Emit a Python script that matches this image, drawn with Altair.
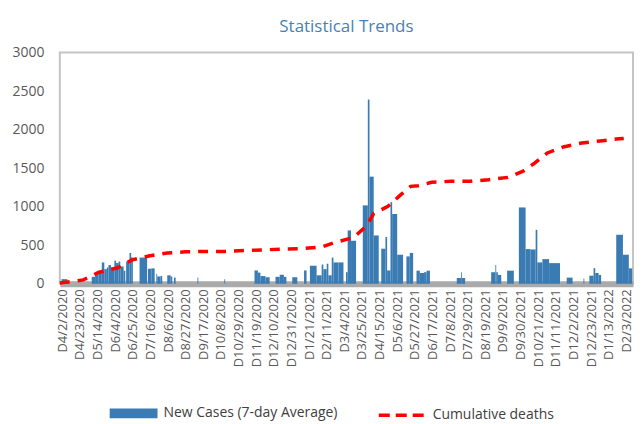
import altair as alt
import pandas as pd

START = "2020-04-02"

# x-axis tick labels (every 21 days)
tick_dates = ["2020-04-02", "2020-04-23", "2020-05-14", "2020-06-04", "2020-06-25",
              "2020-07-16", "2020-08-06", "2020-08-27", "2020-09-17", "2020-10-08",
              "2020-10-29", "2020-11-19", "2020-12-10", "2020-12-31", "2021-01-21",
              "2021-02-11", "2021-03-04", "2021-03-25", "2021-04-15", "2021-05-06",
              "2021-05-27", "2021-06-17", "2021-07-08", "2021-07-29", "2021-08-19",
              "2021-09-09", "2021-09-30", "2021-10-21", "2021-11-11", "2021-12-02",
              "2021-12-23", "2022-01-13", "2022-02-03"]

# New cases (7-day average): bar spans in days since START, and heights
bar_start_day = [-1, 35, 39, 43, 47, 50, 53, 55, 58, 62,
                 64, 67, 69, 73, 76, 80, 82, 92, 102, 106,
                 112, 113, 117, 125, 129, 133, 161, 193, 229, 233,
                 236, 242, 254, 259, 264, 274, 288, 295, 303, 309,
                 311, 315, 317, 321, 323, 329, 338, 340, 344, 358,
                 364, 366, 371, 380, 385, 387, 391, 393, 399, 410,
                 414, 422, 426, 431, 434, 470, 475, 476, 511, 516,
                 517, 519, 530, 544, 552, 558, 564, 566, 572, 580,
                 601, 621, 628, 633, 635, 639, 660, 668, 675]
bar_end_day = [6, 39, 43, 47, 50, 53, 55, 58, 62, 64,
               67, 69, 73, 75, 80, 82, 84, 101, 106, 110,
               113, 117, 119, 129, 131, 135, 162, 194, 233, 236,
               242, 247, 259, 264, 267, 280, 291, 303, 309, 311,
               315, 317, 321, 323, 329, 335, 340, 344, 350, 364,
               366, 371, 377, 385, 387, 391, 393, 399, 406, 414,
               418, 426, 431, 434, 438, 475, 476, 480, 516, 517,
               519, 523, 538, 552, 558, 564, 566, 572, 580, 593,
               608, 622, 633, 635, 639, 642, 668, 675, 679]
bar_value = [60, 90, 130, 170, 277, 190, 210, 243, 210, 300,
             270, 290, 225, 170, 290, 400, 340, 340, 195, 200,
             130, 95, 100, 110, 95, 80, 80, 60, 173, 145,
             100, 85, 90, 117, 90, 85, 173, 234, 110, 250,
             190, 260, 110, 340, 277, 277, 150, 692, 558, 1017,
             2390, 1390, 627, 455, 607, 173, 1060, 905, 377, 355,
             400, 170, 140, 150, 170, 75, 150, 75, 150, 245,
             150, 115, 170, 990, 450, 445, 700, 277, 320, 268,
             80, 70, 105, 203, 140, 115, 636, 377, 200]

# Cumulative deaths
death_day = [-3, 25, 43, 66, 83, 103, 125, 147, 171, 194,
             218, 240, 263, 285, 309, 326, 347, 362, 371, 388,
             402, 415, 424, 440, 463, 486, 508, 531, 549, 563,
             578, 597, 619, 641, 663, 669]
death_value = [10, 50, 147, 208, 310, 360, 400, 415, 420, 420,
               432, 440, 450, 455, 477, 540, 600, 745, 910, 1004,
               1143, 1264, 1272, 1316, 1330, 1330, 1350, 1380, 1460, 1567,
               1697, 1775, 1827, 1853, 1880, 1885]

y_ticks = [0, 500, 1000, 1500, 2000, 2500, 3000]

start = pd.Timestamp(START)


def day_str(d):
    return (start + pd.Timedelta(days=d)).strftime("%Y-%m-%d")


def day_ms(d):
    return int((start + pd.Timedelta(days=d)).value // 10**6)


bars = pd.DataFrame({
    "start": [day_str(d) for d in bar_start_day],
    "end": [day_str(d) for d in bar_end_day],
    "value": bar_value,
    "series": "New Cases (7-day Average)",
})
deaths = pd.DataFrame({
    "date": [day_str(d) for d in death_day],
    "value": death_value,
    "series": "Cumulative deaths",
})

tick_ms = [int(pd.Timestamp(t).value // 10**6) for t in tick_dates]

FONT = "Open Sans"
TXT = "#595959"

x_scale = alt.Scale(type="utc", domain=[day_ms(-3), day_ms(680)])
y_scale = alt.Scale(domain=[0, 3000], nice=False)

x_axis = alt.Axis(values=tick_ms, labelExpr="utcFormat(datum.value, 'D%-m/%-d/%Y')",
                  labelAngle=270, labelFontSize=13, labelColor=TXT, labelFont=FONT,
                  ticks=False, grid=False, domainColor="#aaaaaa", domainWidth=6,
                  labelPadding=5, labelOverlap=False, labelBound=False,
                  labelFlush=False, title=None)
y_axis = alt.Axis(values=y_ticks, format="d", labelFontSize=14, labelColor=TXT, labelFont=FONT,
                  ticks=False, grid=False, domain=False, labelPadding=16, title=None)

legend_common = dict(title=None, orient="none", legendY=354, padding=0, labelLimit=400,
                     labelFontSize=14, labelFont=FONT, labelColor="#404040")

bar_chart = alt.Chart(bars).mark_rect(strokeWidth=0).encode(
    x=alt.X("start:T", scale=x_scale, axis=x_axis),
    x2="end:T",
    y=alt.Y("value:Q", scale=y_scale, axis=y_axis),
    y2=alt.datum(0),
    fill=alt.Fill("series:N",
                  scale=alt.Scale(domain=["New Cases (7-day Average)"], range=["#3a7bb3"]),
                  legend=alt.Legend(legendX=50,
                                    symbolType="M-1,-0.62H5V0.62H-1Z", symbolSize=256,
                                    symbolStrokeWidth=0, labelOffset=38, **legend_common)),
)

line_chart = alt.Chart(deaths).mark_line(strokeDash=[10, 8], strokeWidth=3.5).encode(
    x=alt.X("date:T", scale=x_scale, axis=x_axis),
    y=alt.Y("value:Q", scale=y_scale, axis=y_axis),
    stroke=alt.Stroke("series:N",
                      scale=alt.Scale(domain=["Cumulative deaths"], range=["#ff0000"]),
                      legend=alt.Legend(legendX=318,
                                        symbolType="M-1,0H5.25", symbolSize=256,
                                        symbolDash=[11, 6], symbolStrokeWidth=3.5,
                                        labelOffset=36, **legend_common)),
)

chart = alt.layer(bar_chart, line_chart).properties(
    width=575,
    height=232,
    padding={"left": 3, "right": 0, "top": 9, "bottom": 0},
    title=alt.TitleParams("Statistical Trends", fontSize=17, font=FONT, fontWeight="normal",
                          color="#4a7fb5", anchor="middle", offset=10),
).configure_view(stroke="#c4c4c4", strokeWidth=2)

chart.save("out.html", embed_options={"renderer": "svg", "actions": False})
